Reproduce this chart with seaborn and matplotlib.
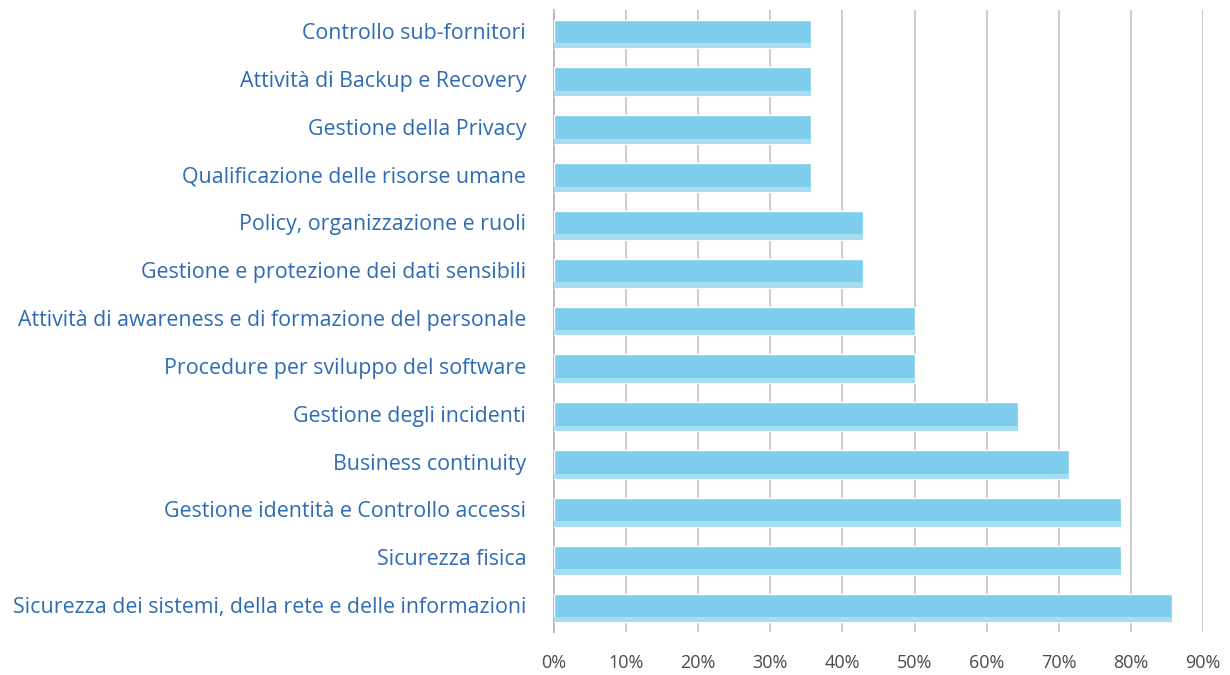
import matplotlib
matplotlib.use("Agg")
import matplotlib.pyplot as plt
import matplotlib.transforms as mtransforms
import seaborn as sns
import pandas as pd
from matplotlib.patches import Rectangle

# data: share of respondents (%) per security area
categories = [
    "Controllo sub-fornitori",
    "Attività di Backup e Recovery",
    "Gestione della Privacy",
    "Qualificazione delle risorse umane",
    "Policy, organizzazione e ruoli",
    "Gestione e protezione dei dati sensibili",
    "Attività di awareness e di formazione del personale",
    "Procedure per sviluppo del software",
    "Gestione degli incidenti",
    "Business continuity",
    "Gestione identità e Controllo accessi",
    "Sicurezza fisica",
    "Sicurezza dei sistemi, della rete e delle informazioni",
]
values = [35.7, 35.6, 35.6, 35.6, 42.9, 42.9, 50.0, 50.0, 64.3, 71.4, 78.6, 78.6, 85.7]
tick_values = [0, 10, 20, 30, 40, 50, 60, 70, 80, 90]
tick_labels = ["0%", "10%", "20%", "30%", "40%", "50%", "60%", "70%", "80%", "90%"]

df = pd.DataFrame({"area": categories, "pct": values})

sns.set_style("white")
plt.rcParams["font.family"] = ["Open Sans", "DejaVu Sans"]

fig = plt.figure(figsize=(12.3, 6.75), dpi=100)
ax = fig.add_axes([554 / 1230, 1 - 632 / 675, (1203 - 554) / 1230, (632 - 10) / 675])

sns.barplot(data=df, x="pct", y="area", color="#7ecdec", saturation=1,
            width=0.6, ax=ax, zorder=3)

# lighter strip along the bottom of each bar
strip = 0.11
for p in ax.patches[:len(values)]:
    x, y, w, h = p.get_x(), p.get_y(), p.get_width(), p.get_height()
    ax.add_patch(Rectangle((x, y + h - strip), w, strip, color="#a8dcf0",
                           lw=0, zorder=4))

ax.set_xlim(0, 90)
ax.set_xticks(tick_values)
ax.set_xticklabels(tick_labels, color="#4a4a4a", fontsize=13)
ax.tick_params(axis="x", length=0, pad=16)
ax.tick_params(axis="y", length=0, pad=20, labelsize=15.4, labelcolor="#2e6bb3")
# nudge category labels up a little
shift = mtransforms.ScaledTranslation(0, 3 / 100, fig.dpi_scale_trans)
for lbl in ax.get_yticklabels():
    lbl.set_transform(lbl.get_transform() + shift)
ax.grid(axis="x", color="#cccccc", lw=1.4, zorder=0)
ax.grid(axis="y", visible=False)
for s in ["top", "right", "bottom"]:
    ax.spines[s].set_visible(False)
ax.spines["left"].set_color("#bbbbbb")
ax.spines["left"].set_linewidth(1.4)
ax.set_xlabel("")
ax.set_ylabel("")

fig.savefig("out.png", dpi=100)
